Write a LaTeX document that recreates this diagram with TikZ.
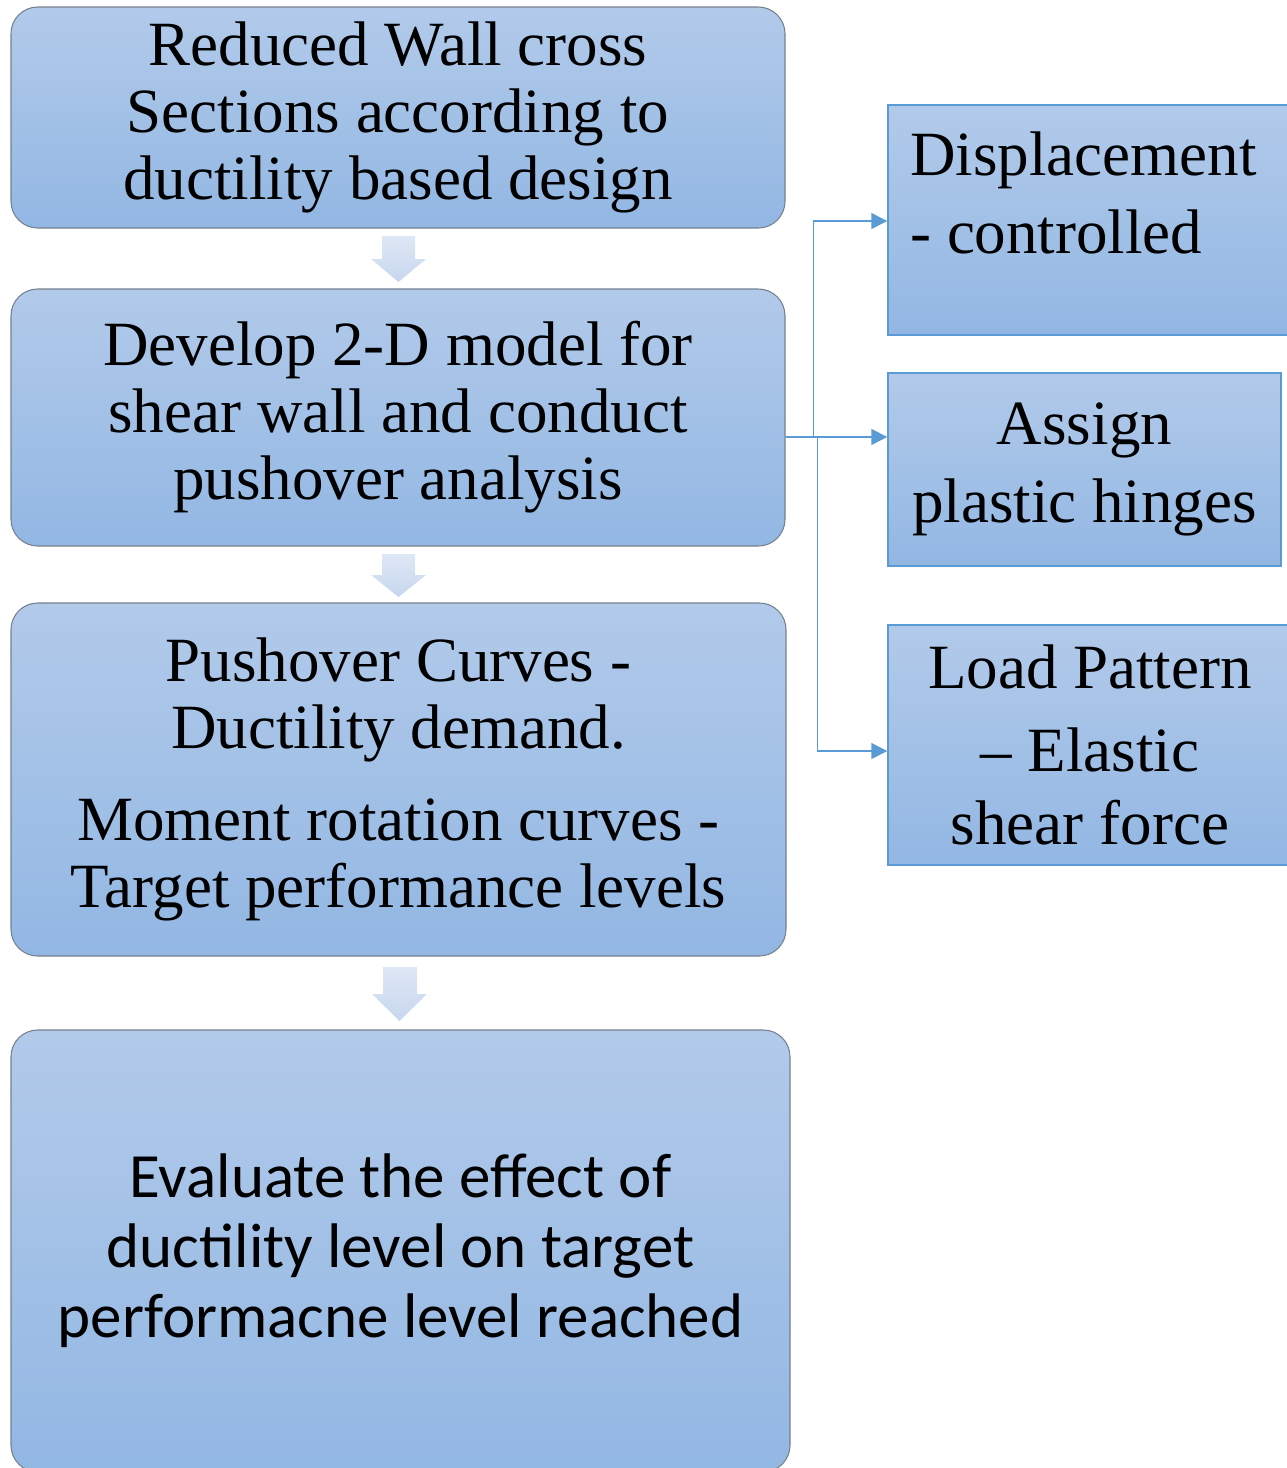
\documentclass[tikz,border=0pt]{standalone}
\usepackage{fontspec}
\setmainfont{Liberation Serif}
\newfontfamily\calibrifont{Carlito}
\usetikzlibrary{arrows.meta,positioning,calc}
\definecolor{boxtop}{RGB}{178,202,234}
\definecolor{boxbot}{RGB}{146,183,227}
\definecolor{boxline}{RGB}{118,128,142}
\definecolor{linkblue}{RGB}{91,155,213}
\definecolor{arrtop}{RGB}{222,231,245}
\definecolor{arrbot}{RGB}{199,215,239}

\begin{document}
\begin{tikzpicture}[x=0.75pt,y=0.75pt,yscale=-1,xscale=1,
	stagebox/.style={draw=boxline, line width=0.8pt, rounded corners=20pt, top color=boxtop, bottom color=boxbot,
		inner sep=0pt, align=center, font=\fontsize{47.25pt}{50.25pt}\selectfont},
	sidebox/.style={draw=linkblue, line width=1.1pt, top color=boxtop, bottom color=boxbot,
		inner sep=0pt, align=center, font=\fontsize{47.25pt}{58.5pt}\selectfont},
	link/.style={draw=linkblue, line width=1.1pt, -{Triangle[length=12pt,width=12pt]}},
	blockarrow/.style={top color=arrtop, bottom color=arrbot}]
	\useasboundingbox (0,0) rectangle (1286,1468);
	
	%Stages on the left
	\node [stagebox, minimum width=580.5pt, minimum height=165.75pt] (reduced) at (398,117.5)
		{Reduced Wall cross\\Sections according to\\ductility based design};
	\node [stagebox, minimum width=580.5pt, minimum height=192.75pt] (develop) at (398,417.5)
		{Develop 2-D model for\\shear wall and conduct\\pushover analysis};
	\node [stagebox, minimum width=581.25pt, minimum height=264.75pt] (curves) at (398.5,779.5)
		{Pushover Curves -\\Ductility demand.\\[19pt]Moment rotation curves -\\Target performance levels};
	\node [stagebox, minimum width=584.25pt, minimum height=331.5pt,
		font=\calibrifont\fontsize{47.25pt}{52.5pt}\selectfont] (evaluate) at (400.5,1251)
		{Evaluate the effect of\\ductility level on target\\performacne level reached};
	
	%Block arrows between stages
	\path [blockarrow] (382,236) -- (415,236) -- (415,259) -- (426,259) -- (398.5,282) -- (371,259) -- (382,259) -- cycle;
	\path [blockarrow] (382,554) -- (415,554) -- (415,575) -- (426,575) -- (398.5,597) -- (371,575) -- (382,575) -- cycle;
	\path [blockarrow] (383,967) -- (417,967) -- (417,994) -- (427,994) -- (399.5,1021) -- (372,994) -- (383,994) -- cycle;
	
	%Boxes on the right
	\node [sidebox, minimum width=303pt, minimum height=172.5pt] (disp) at (1090,220) {};
	% Text Node
	\node [anchor=north west, inner sep=0pt, align=left, font=\fontsize{47.25pt}{58.5pt}\selectfont]
		(dispText) at (910,132) {Displacement\\- controlled};
	\node [sidebox, minimum width=294.75pt, minimum height=144.75pt] (assign) at (1084.5,469.5)
		{Assign\\plastic hinges};
	\node [sidebox, minimum width=303pt, minimum height=180pt] (load) at (1090,745)
		{Load Pattern\\\raisebox{-4pt}{– Elastic}\\shear force};
	
	%Connectors
	\coordinate (fork) at ([yshift=14.6pt]develop.east);
	\draw [link] (fork) -- ++(28,0) |- ([yshift=0.75pt]disp.west);
	\draw [link] (fork) -- (fork -| assign.west);
	\draw [link] ($(fork)+(32,0)$) |- ([yshift=4.5pt]load.west);
	
\end{tikzpicture}
\end{document}
